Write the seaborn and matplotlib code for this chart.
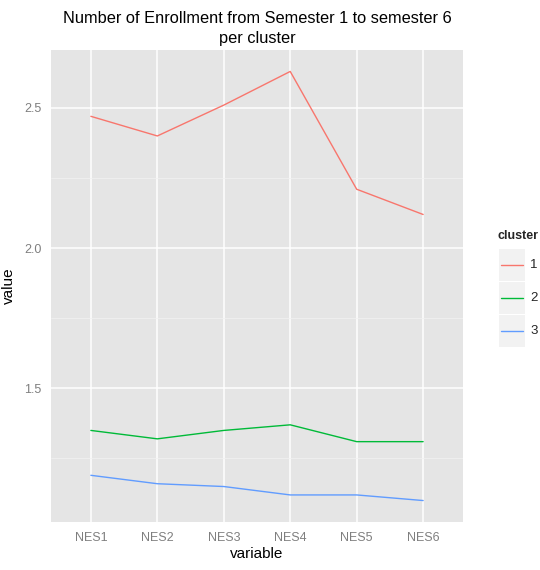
import numpy as np
import pandas as pd
import matplotlib.pyplot as plt
import matplotlib.patches as mpatches
import matplotlib.lines as mlines
import seaborn as sns

# data
variables = ["NES1", "NES2", "NES3", "NES4", "NES5", "NES6"]
cluster_1 = [2.47, 2.40, 2.51, 2.63, 2.21, 2.12]
cluster_2 = [1.35, 1.32, 1.35, 1.37, 1.31, 1.31]
cluster_3 = [1.19, 1.16, 1.15, 1.12, 1.12, 1.10]
clusters = ["1", "2", "3"]
colors = ["#F8766D", "#00BA38", "#619CFF"]

df = pd.DataFrame({
    "variable": variables * 3,
    "value": cluster_1 + cluster_2 + cluster_3,
    "cluster": [c for c in clusters for _ in variables],
})
df["pos"] = df["variable"].map({v: i for i, v in enumerate(variables)})

sns.set_style("darkgrid", {"axes.facecolor": "#E5E5E5", "grid.color": "white"})
plt.rcParams["font.family"] = ["Liberation Sans", "DejaVu Sans"]

W, H = 540, 570
fig = plt.figure(figsize=(W / 100, H / 100), dpi=100)
ax = fig.add_axes([51 / W, 48 / H, 412 / W, 472 / H])

sns.lineplot(data=df, x="pos", y="value", hue="cluster", hue_order=clusters,
             palette=colors, linewidth=1.0, legend=False, ax=ax)

ax.set_xlim(-0.6, 5.6)
ax.set_ylim(1.0235, 2.7065)
ax.set_xticks(range(len(variables)))
ax.set_xticklabels(variables)
ax.set_yticks([1.5, 2.0, 2.5])
ax.set_yticklabels(["1.5", "2.0", "2.5"])
ax.set_yticks([1.25, 1.75, 2.25], minor=True)
ax.grid(True, which="major", color="white", linewidth=1.1)
ax.grid(True, which="minor", axis="y", color="#F2F2F2", linewidth=0.5)
for s in ax.spines.values():
    s.set_visible(False)
ax.tick_params(axis="both", which="major", length=4, width=1, color="#7F7F7F",
               labelcolor="#7F7F7F", labelsize=9, pad=3)
ax.tick_params(axis="both", which="minor", length=0)
ax.set_xlabel("variable", fontsize=11, color="black", labelpad=2)
ax.set_ylabel("value", fontsize=11, color="black", labelpad=6)
ax.set_title("Number of Enrollment from Semester 1 to semester 6\nper cluster",
             fontsize=11.8, color="black", pad=5, linespacing=1.4)

# legend drawn like ggplot: grey key boxes, bold title
fig.text(497 / W, 1 - 236 / H, "cluster", fontsize=9, fontweight="bold",
         ha="left", va="center")
for i, (lab, c) in enumerate(zip(clusters, colors)):
    top = 249 + i * 33
    fig.patches.append(mpatches.Rectangle((499 / W, 1 - (top + 32) / H), 26 / W, 32 / H,
                                          transform=fig.transFigure,
                                          facecolor="#F2F2F2", edgecolor="none"))
    yc = 1 - (top + 16) / H
    fig.lines.append(mlines.Line2D([501 / W, 523 / W], [yc, yc], color=c,
                                   linewidth=1.0, transform=fig.transFigure))
    fig.text(530 / W, yc, lab, fontsize=9.5, ha="left", va="center")

fig.savefig("out.png", dpi=100, facecolor="white")
